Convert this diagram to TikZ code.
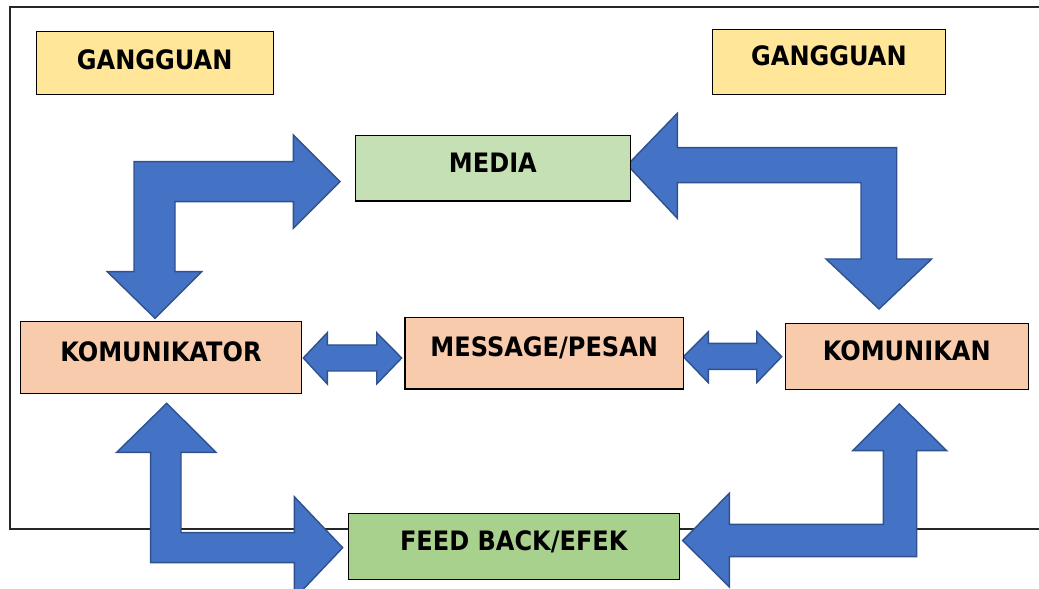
\documentclass[tikz,border=0pt]{standalone}
\usepackage{fontspec}
\setmainfont{DejaVu Sans}
\newfontfamily\hurufkotak[FakeStretch=0.9]{DejaVu Sans}
\usetikzlibrary{positioning}

\definecolor{kuning}{HTML}{FFE699}
\definecolor{hijaumuda}{HTML}{C5E0B4}
\definecolor{hijau}{HTML}{A9D18E}
\definecolor{jingga}{HTML}{F8CBAD}
\definecolor{biru}{HTML}{4472C4}
\definecolor{birutua}{HTML}{2F528F}

\begin{document}
\begin{tikzpicture}[x=0.025cm,y=-0.025cm,
    kotak/.style={draw=black,line width=0.8pt,inner sep=0pt,
        font=\hurufkotak\fontsize{19}{22}\selectfont\bfseries,
        text height=0.50cm,text depth=0.31cm},
    panah/.style={fill=biru,draw=birutua,line width=1pt,line join=miter}]
    \useasboundingbox (0,0) rectangle (1039,589);

    % bingkai
    \draw[line width=0.9pt,black!85] (10,7) rectangle (1060,529);

    % panah besar
    \filldraw[panah] (134,161.7) -- (293.3,161.7) -- (293.3,135) -- (340,181.7) -- (293.3,228.3) -- (293.3,201.7) -- (175,201.7) -- (175,271.7) -- (201.7,271.7) -- (155,318.3) -- (107.3,271.7) -- (134,271.7) -- cycle;
    \filldraw[panah] (896.7,147.7) -- (677.3,147.7) -- (677.3,113.3) -- (627.3,165) -- (677.3,218.3) -- (677.3,182.7) -- (861,182.7) -- (861,259) -- (826,259) -- (879,309) -- (931.7,259) -- (896.7,259) -- cycle;
    \filldraw[panah] (166.7,403.3) -- (216,452.3) -- (181,452.3) -- (181,532.7) -- (294.3,532.7) -- (294.3,496.7) -- (342.7,547.7) -- (294.3,598.7) -- (294.3,562.7) -- (150.7,562.7) -- (150.7,452.3) -- (116.7,452.3) -- cycle;
    \filldraw[panah] (899.3,404) -- (946.7,450.7) -- (916.7,450.7) -- (916.7,556.7) -- (729.3,556.7) -- (729.3,587) -- (682.7,540.5) -- (729.3,493.3) -- (729.3,524.3) -- (883.3,524.3) -- (883.3,450.7) -- (852.7,450.7) -- cycle;
    \filldraw[panah] (303.3,358) -- (327.3,332.7) -- (327.3,345) -- (376.7,345) -- (376.7,332.7) -- (401.7,358) -- (376.7,384) -- (376.7,371) -- (327.3,371) -- (327.3,384) -- cycle;
    \filldraw[panah] (683.3,356.7) -- (708.3,331.7) -- (708.3,343.3) -- (756.7,343.3) -- (756.7,331.7) -- (781.7,356.7) -- (756.7,382.7) -- (756.7,369.3) -- (708.3,369.3) -- (708.3,382.7) -- cycle;

    % kotak
    \node[kotak,fill=kuning,minimum width=5.93cm,minimum height=1.57cm,text depth=0.16cm] (gangguan1) at (154.7,63) {GANGGUAN};
    \node[kotak,fill=kuning,minimum width=5.81cm,minimum height=1.63cm] (gangguan2) at (828.9,61.8) {GANGGUAN};
    \node[kotak,fill=hijaumuda,minimum width=6.86cm,minimum height=1.63cm] (media) at (492.9,168.4) {MEDIA};
    \node[kotak,fill=jingga,minimum width=7.04cm,minimum height=1.79cm] (komunikator) at (160.9,357.5) {KOMUNIKATOR};
    \node[kotak,fill=jingga,minimum width=6.96cm,minimum height=1.79cm] (pesan) at (544.2,353.2) {MESSAGE/PESAN};
    \node[kotak,fill=jingga,minimum width=6.08cm,minimum height=1.65cm] (komunikan) at (906.7,356.3) {KOMUNIKAN};
    \node[kotak,fill=hijau,minimum width=8.28cm,minimum height=1.63cm] (feedback) at (513.8,546.5) {FEED BACK/EFEK};

\end{tikzpicture}
\end{document}
